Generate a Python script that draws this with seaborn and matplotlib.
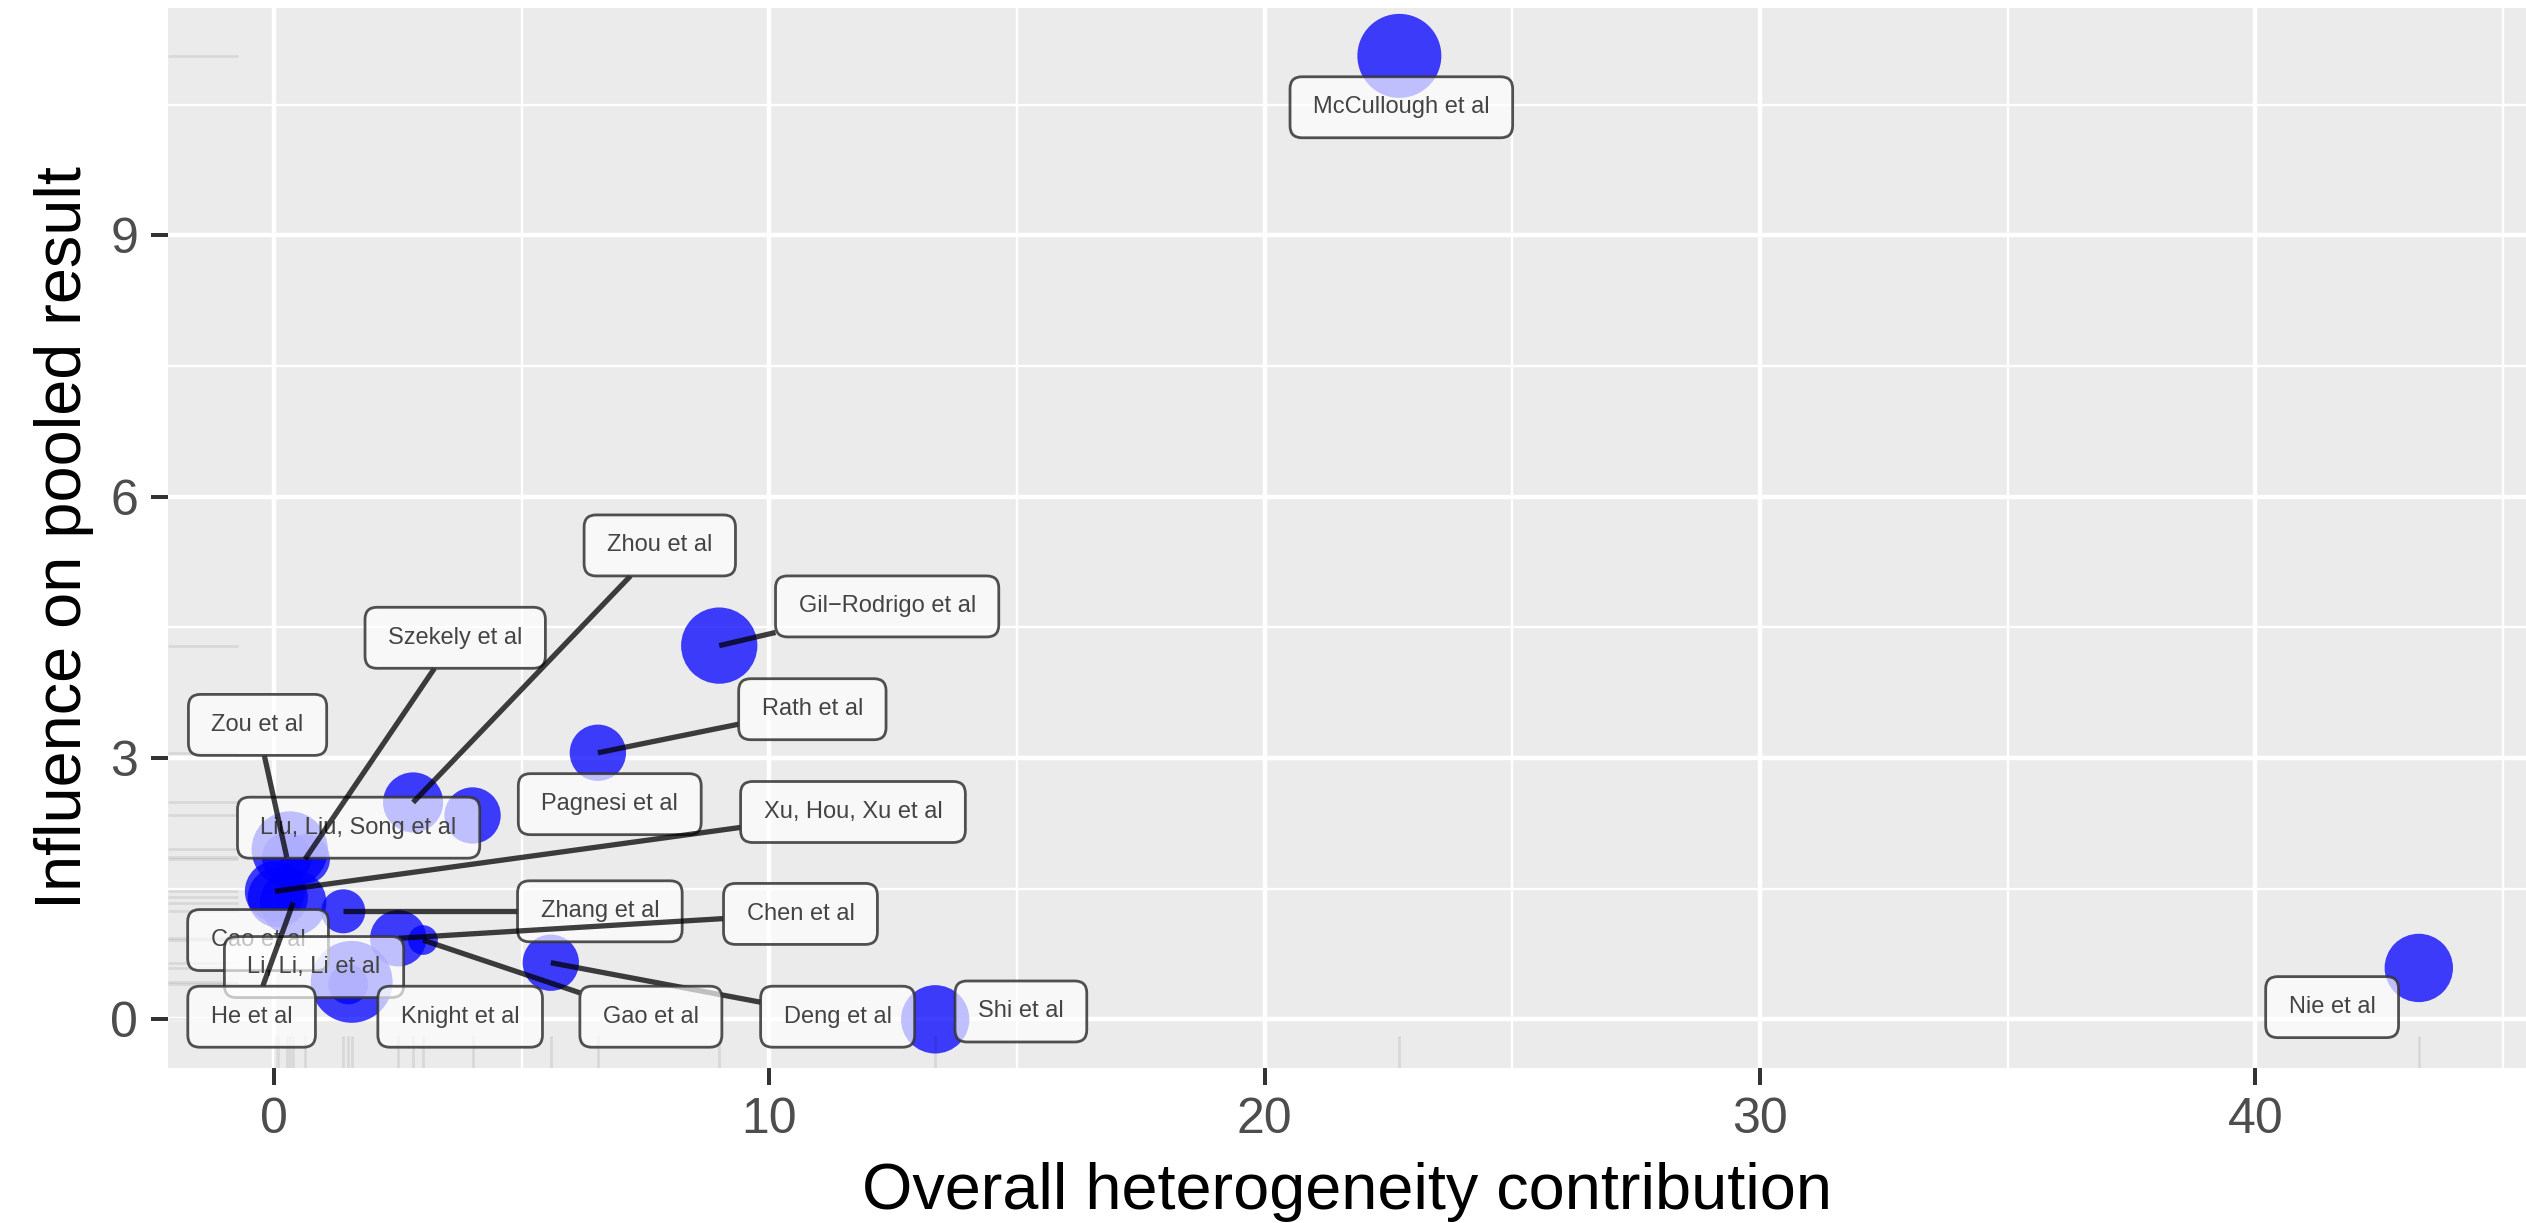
import numpy as np
import pandas as pd
import matplotlib
matplotlib.use("Agg")
import matplotlib.pyplot as plt
import seaborn as sns
from matplotlib.patches import FancyBboxPatch
from matplotlib.transforms import IdentityTransform

# ---- Baujat diagnostics per study ----
studies = [
    "McCullough et al", "Nie et al", "Shi et al", "Gil\u2212Rodrigo et al",
    "Rath et al", "Pagnesi et al", "Deng et al", "Gao et al", "Zhang et al",
    "Chen et al", "Xu, Hou, Xu et al", "Cao et al", "Li, Li, Li et al",
    "Knight et al", "Liu, Liu, Song et al", "He et al", "Zou et al",
    "Szekely et al", "Zhou et al",
]
heterogeneity = [22.72, 43.30, 13.35, 8.99, 6.54, 4.01, 5.59, 3.01, 1.40,
                 2.51, 0.02, 0.08, 1.57, 1.50, 0.32, 0.39, 0.26, 0.63, 2.81]
influence = [11.06, 0.59, 0.00, 4.29, 3.06, 2.34, 0.65, 0.91, 1.24,
             0.93, 1.47, 1.40, 0.43, 0.40, 1.95, 1.34, 1.86, 1.84, 2.49]
weight = [8.0, 5.3, 5.3, 6.6, 3.6, 3.6, 3.6, 1.0, 2.2,
          3.6, 4.1, 4.1, 7.6, 1.8, 6.6, 5.0, 2.8, 2.8, 4.1]

# repelled label placement: offset of each label centre from its study
label_dx = [0.04, -1.75, 1.73, 3.39, 4.33, 2.77, 5.79, 4.60, 5.18,
            8.12, 11.67, -0.40, -0.76, 2.26, 1.39, -0.84, -0.59, 3.03, 4.98]
label_dy = [-0.59, -0.45, 0.09, 0.45, 0.50, 0.13, -0.62, -0.88, 0.00,
            0.28, 0.91, -0.49, 0.17, -0.37, 0.25, -1.31, 1.52, 2.54, 2.95]

df = pd.DataFrame({"study": studies, "x": heterogeneity,
                   "y": influence, "w": weight})

# ---- theme (ggplot-like grey panel) ----
sns.set_theme(style="darkgrid")
plt.rcParams["font.family"] = ["Liberation Sans", "DejaVu Sans"]

DPI = 200
fig = plt.figure(figsize=(2526 / DPI, 1223 / DPI), dpi=DPI)
ax = fig.add_axes([167.7 / 2526, 1 - 1067.5 / 1223,
                   1 - 167.7 / 2526, (1067.5 - 7.7) / 1223])
ax.set_facecolor("#EBEBEB")
for s in ax.spines.values():
    s.set_visible(False)

# points: area proportional to weight
wmax = df["w"].max()
smax = 914 * wmax / 8.0
sns.scatterplot(data=df, x="x", y="y", size="w", sizes=(0, smax),
                size_norm=(0, wmax), color="#0000FF", alpha=0.75,
                linewidth=0, legend=False, ax=ax, zorder=3)

# marginal rugs
sns.rugplot(x=df["x"], height=0.03, color="black", alpha=0.08,
            lw=1.8, expand_margins=False, ax=ax, zorder=4)
sns.rugplot(y=df["y"], height=0.03, color="black", alpha=0.08,
            lw=1.8, expand_margins=False, ax=ax, zorder=4)

# scale limits with 5% expansion
xr = df["x"].max() - df["x"].min()
yr = df["y"].max() - df["y"].min()
ax.set_xlim(df["x"].min() - 0.05 * xr, df["x"].max() + 0.05 * xr)
ax.set_ylim(df["y"].min() - 0.05 * yr, df["y"].max() + 0.05 * yr)

ax.set_xticks([0, 10, 20, 30, 40])
ax.set_yticks([0, 3, 6, 9])
ax.set_xticks([5, 15, 25, 35, 45], minor=True)
ax.set_yticks([1.5, 4.5, 7.5, 10.5], minor=True)
ax.grid(which="major", color="white", lw=1.6)
ax.grid(which="minor", color="white", lw=0.85)
ax.set_axisbelow(True)
ax.tick_params(which="major", length=6.1, width=1.44, color="#333333",
               labelsize=18, labelcolor="#4D4D4D", pad=4.5,
               bottom=True, left=True)
ax.tick_params(which="minor", length=0, bottom=False, left=False)
ax.set_xlabel("Overall heterogeneity contribution", fontsize=23.3,
              color="black", labelpad=7)
ax.set_ylabel("Influence on pooled result", fontsize=23.3,
              color="black", labelpad=6)

# ---- repelled labels with connector segments ----
renderer = fig.canvas.get_renderer()
PAD_X, BOX_H, MIN_SEG = 23, 61, 52
z = 10
for i, row in df.iterrows():
    lx = row["x"] + label_dx[i]
    ly = row["y"] + label_dy[i]
    t = ax.text(lx, ly, row["study"], ha="center", va="center",
                fontsize=8.5, color="#444444", zorder=z + 2)
    bb = t.get_window_extent(renderer)
    cx, cy = ax.transData.transform((lx, ly))
    w = bb.width + 2 * PAD_X
    h = BOX_H
    x0, y0 = cx - w / 2, cy - h / 2
    box = FancyBboxPatch((x0, y0), w, h,
                         boxstyle="round,pad=0,rounding_size=12",
                         transform=IdentityTransform(),
                         facecolor=(1, 1, 1, 0.68),
                         edgecolor=(0.2, 0.2, 0.2, 0.85), lw=1.0,
                         zorder=z + 1)
    ax.add_patch(box)

    # segment from the study point toward the label centre, ending at the box
    px, py = ax.transData.transform((row["x"], row["y"]))
    dx, dy = cx - px, cy - py
    inside = (x0 <= px <= x0 + w) and (y0 <= py <= y0 + h)
    if not inside:
        ts = []
        if dx != 0:
            for ex in (x0, x0 + w):
                tt = (ex - px) / dx
                yy = py + tt * dy
                if 0 <= tt <= 1 and y0 - 1e-6 <= yy <= y0 + h + 1e-6:
                    ts.append(tt)
        if dy != 0:
            for ey in (y0, y0 + h):
                tt = (ey - py) / dy
                xx = px + tt * dx
                if 0 <= tt <= 1 and x0 - 1e-6 <= xx <= x0 + w + 1e-6:
                    ts.append(tt)
        if ts:
            tt = min(ts)
            ex, ey = px + tt * dx, py + tt * dy
            if np.hypot(ex - px, ey - py) > MIN_SEG:
                d0 = ax.transData.inverted().transform((ex, ey))
                ax.plot([row["x"], d0[0]], [row["y"], d0[1]],
                        color="black", alpha=0.75, lw=1.9,
                        solid_capstyle="butt", zorder=z)
    z += 3

fig.savefig("out.png", dpi=DPI, facecolor="white")
